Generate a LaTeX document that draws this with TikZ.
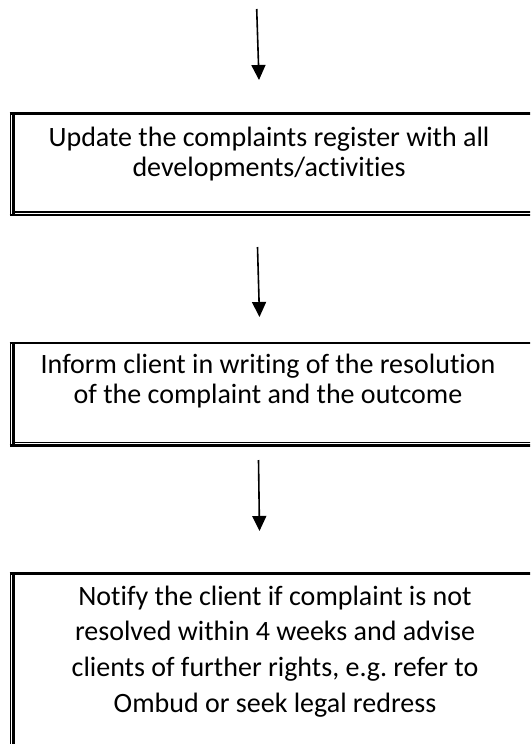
\documentclass[tikz,border=0pt]{standalone}
\usepackage{fontspec}
\setmainfont{Carlito}[Ligatures=NoCommon]
\frenchspacing
\usetikzlibrary{arrows.meta}
\begin{document}
\begin{tikzpicture}[x=1pt,y=1pt,
	stepbox/.style={draw,line width=2.5pt,minimum width=540pt,inner sep=0pt,outer sep=0pt,anchor=north west},
	steptext/.style={align=center,font=\fontsize{28}{30}\selectfont},
	thinrule/.style={line width=1.2pt},
	flow/.style={line width=1.6pt,-{Triangle[width=14pt,length=15pt]}}]
		\useasboundingbox (0,0) rectangle (530,-744);
		\clip (0,0) rectangle (530,-744);
		% boxes
		\node[stepbox,minimum height=101.3pt] (upd) at (13.3,-113.7) {};
		\node[stepbox,minimum height=102.5pt] (inf) at (13.3,-343) {};
		\node[stepbox,minimum height=200pt] (ntf) at (13.3,-573.5) {};
		\foreach \b in {upd,inf,ntf} {
			\draw[thinrule] ([xshift=-3.1pt]\b.north west) -- ([xshift=-3.1pt]\b.south west);
			\draw[thinrule] ([yshift=3pt]\b.south west) -- ([yshift=3pt]\b.south east);
			\draw[line width=2.5pt] ([xshift=-3.7pt]\b.north west) -- (\b.north west);
			\draw[line width=2.5pt] ([xshift=-3.7pt]\b.south west) -- (\b.south west);
		}
		% texts
		\node[steptext] (updtxt) at (269,-154) {Update the complaints register with all\\developments/activities};
		\node[steptext] (inftxt) at (268,-381) {Inform client in writing of the resolution\\of the complaint and the outcome};
		\node[steptext,font=\fontsize{28}{35.7}\selectfont] (ntftxt) at (275,-651.5) {Notify the client if complaint is not\\resolved within 4 weeks and advise\\clients of further rights, e.g. refer to\\Ombud or seek legal redress};
		% arrows
		\coordinate (a1s) at (256.7,-9);
		\coordinate (a1e) at (259,-80);
		\coordinate (a2s) at (257.5,-247);
		\coordinate (a2e) at (259.5,-317);
		\coordinate (a3s) at (258.5,-460);
		\coordinate (a3e) at (259.5,-531);
		\draw[flow] (a1s) -- (a1e);
		\draw[flow] (a2s) -- (a2e);
		\draw[flow] (a3s) -- (a3e);
	\end{tikzpicture}
\end{document}
